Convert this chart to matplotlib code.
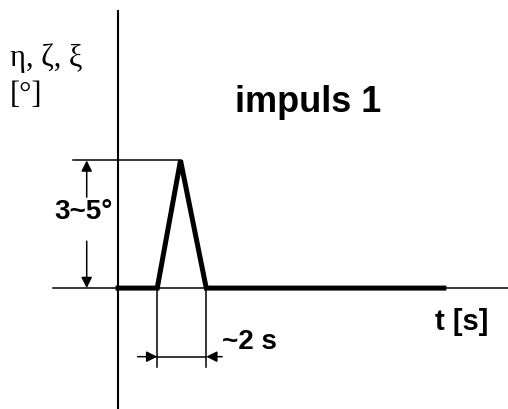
import matplotlib
matplotlib.use("Agg")
import matplotlib.pyplot as plt

# impulse signal: time [s] vs angle [deg]
t_s = [0.0, 1.6, 2.55, 3.6, 13.3]
angle_deg = [0.0, 0.0, 4.0, 0.0, 0.0]

title_text = "impuls 1"
amp_text = "3~5°"
dur_text = "~2 s"
x_label = "t [s]"
y_label = ["η, ζ, ξ", "[°]"]

fig = plt.figure(figsize=(5.08, 4.10), dpi=100)
ax = fig.add_axes([0, 0, 1, 1])
ax.set_xlim(-4.82, 15.92)
ax.set_ylim(-3.79, 9.06)
ax.axis("off")

thin = 1.1
k = "black"

# axes
ax.plot([0, 0], [-3.79, 8.68], color=k, lw=1.5)
ax.plot([-2.65, 15.92], [0, 0], color=k, lw=thin)

# signal
ax.plot(t_s, angle_deg, color=k, lw=3.6, solid_joinstyle="miter")

peak = max(angle_deg)
t_peak = t_s[angle_deg.index(peak)]

# amplitude dimension
ax.plot([-1.84, t_peak], [peak, peak], color=k, lw=thin)
xa = -1.28
ap = dict(arrowstyle="-|>", color=k, lw=thin, mutation_scale=16, shrinkA=0, shrinkB=0)
ax.annotate("", xy=(xa, peak), xytext=(xa, 2.85), arrowprops=ap)
ax.annotate("", xy=(xa, 0), xytext=(xa, 1.47), arrowprops=ap)
ax.text(xa - 0.15, 2.41, amp_text, ha="center", va="center", fontsize=20,
        fontweight="bold", family="Liberation Sans")

# duration dimension
yd = -2.15
for tt in (t_s[1], t_s[3]):
    ax.plot([tt, tt], [0, -2.48], color=k, lw=thin)
ax.plot([t_s[1], t_s[3]], [yd, yd], color=k, lw=thin)
ax.annotate("", xy=(t_s[1], yd), xytext=(t_s[1] - 0.8, yd), arrowprops=ap)
ax.annotate("", xy=(t_s[3], yd), xytext=(t_s[3] + 0.65, yd), arrowprops=ap)
ax.text(t_s[3] + 0.64, -1.66, dur_text, ha="left", va="center", fontsize=20,
        fontweight="bold", family="Liberation Sans")

# labels
ax.text(7.76, 5.86, title_text, ha="center", va="center", fontsize=26,
        fontweight="bold", family="Liberation Sans")
ax.text(12.94, -1.03, x_label, ha="left", va="center", fontsize=21,
        fontweight="bold", family="Liberation Sans")
ax.text(-4.41, 7.24, y_label[0], ha="left", va="center", fontsize=22,
        family="Liberation Serif")
ax.text(-4.41, 6.08, y_label[1], ha="left", va="center", fontsize=22,
        family="Liberation Serif")

fig.savefig("out.png", dpi=100)
